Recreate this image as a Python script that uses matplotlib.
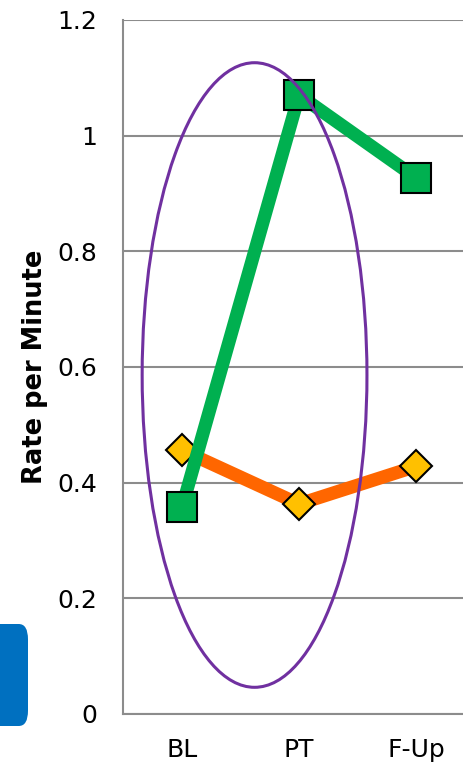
import matplotlib.pyplot as plt
import numpy as np
from matplotlib.patches import Ellipse, FancyBboxPatch

# data
phases = ["BL", "PT", "F-Up"]
green_rate = [0.357, 1.070, 0.927]
orange_rate = [0.456, 0.363, 0.428]
yticks = [0, 0.2, 0.4, 0.6, 0.8, 1.0, 1.2]
ytick_labels = ["0", "0.2", "0.4", "0.6", "0.8", "1", "1.2"]

fig = plt.figure(figsize=(4.64, 7.66), dpi=100)
ax = fig.add_axes([0.266, 0.068, 0.757, 0.906])

x = np.arange(len(phases))

ax.plot(x, green_rate, color="#00B050", lw=9.5, marker="s", ms=22,
        mfc="#00B050", mec="black", mew=1.5, zorder=4)
ax.plot(x, orange_rate, color="#FF6600", lw=9.5, marker="D", ms=16,
        mfc="#FFC000", mec="black", mew=1.5, zorder=3)

# circled region
ell = Ellipse((0.62, 0.586), 1.92, 1.08, fill=False, ec="#7030A0", lw=2.2, zorder=5)
ax.add_patch(ell)

ax.set_xlim(-0.5, 2.5)
ax.set_ylim(0, 1.2)
ax.set_xticks(x)
ax.set_xticklabels(phases)
ax.set_yticks(yticks)
ax.set_yticklabels(ytick_labels)
ax.tick_params(axis="both", length=0, labelsize=18)
ax.tick_params(axis="y", pad=19)
ax.tick_params(axis="x", pad=17)

ax.grid(axis="y", color="#8c8c8c", lw=1.5)
ax.set_axisbelow(True)
for s in ["top", "right"]:
    ax.spines[s].set_visible(False)
for s in ["left", "bottom"]:
    ax.spines[s].set_color("#8c8c8c")
    ax.spines[s].set_linewidth(1.5)

ax.set_ylabel("Rate per Minute", fontsize=18.5, fontweight="bold")
ax.yaxis.set_label_coords(-0.214, 0.5)

# blue tab at the left edge
tab = FancyBboxPatch((-20 / 464, 40 / 766), 48 / 464, 102 / 766,
                     boxstyle="round,pad=0,rounding_size=0.02",
                     transform=fig.transFigure, fc="#0070C0", ec="none")
fig.patches.append(tab)

fig.savefig("out.png", dpi=100)
